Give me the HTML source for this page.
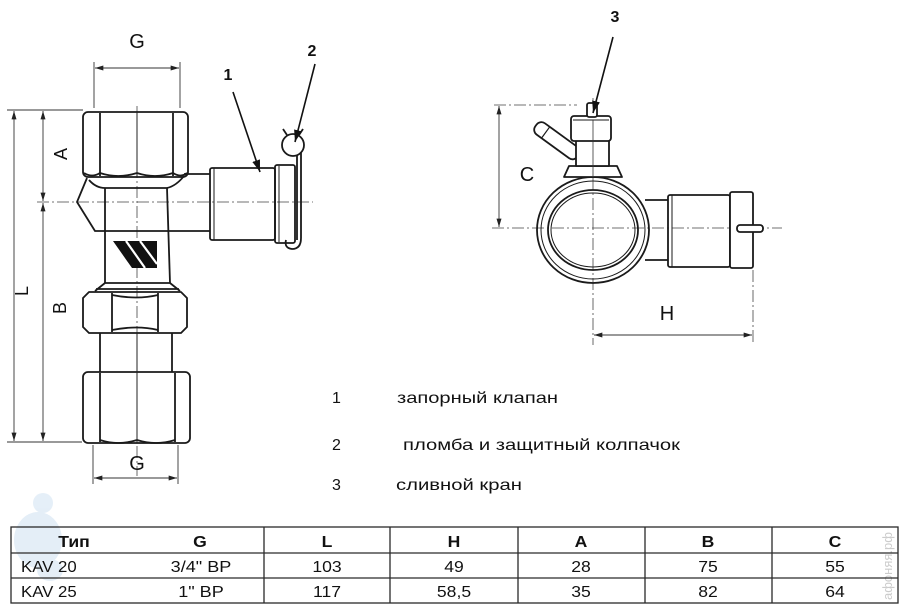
<!DOCTYPE html>
<html><head><meta charset="utf-8"><style>
html,body{margin:0;padding:0;background:#fff;}
svg{display:block;}
text{font-family:"Liberation Sans","Noto Sans CJK SC",sans-serif;fill:#111;}
</style></head><body>
<svg width="903" height="609" viewBox="0 0 903 609" xmlns="http://www.w3.org/2000/svg">
<defs>
<marker id="ar" viewBox="0 0 10 6" refX="10" refY="3" markerWidth="9" markerHeight="5" orient="auto-start-reverse" markerUnits="userSpaceOnUse"><path d="M0,0 L10,3 L0,6 z" fill="#222"/></marker>
<marker id="ld" viewBox="0 0 12 8" refX="12" refY="4" markerWidth="12" markerHeight="8" orient="auto" markerUnits="userSpaceOnUse"><path d="M0,0 L12,4 L0,8 z" fill="#111"/></marker>
</defs>

<!-- watermark figure -->
<g fill="#dce9f5" opacity="0.75">
<circle cx="43" cy="503" r="10"/>
<ellipse cx="38" cy="540" rx="24" ry="28"/>
<ellipse cx="50" cy="570" rx="13" ry="11"/>
</g>
<text transform="translate(892 600) rotate(-90)" font-size="13" style="fill:#cccccc">афоняя.рф</text>

<!-- ===== LEFT DRAWING ===== -->
<g stroke="#444" stroke-width="0.8" stroke-dasharray="12 3 2 3" fill="none">
<line x1="137" y1="106" x2="137" y2="476"/>
<line x1="37" y1="202" x2="313" y2="202"/>
</g>

<g stroke="#1a1a1a" stroke-width="1.8" fill="none" stroke-linejoin="round">
<!-- top nut -->
<rect x="83" y="112" width="105" height="65" rx="5"/>
<line x1="100" y1="113" x2="100" y2="176"/>
<line x1="173" y1="113" x2="173" y2="176"/>
<path d="M100,173 Q118,179 137,173 Q155,179 173,173"/>
<path d="M84,173 Q92,178 100,173 M173,173 Q181,178 187,173"/>
<!-- body -->
<path d="M87,178 L77,202 L95,231 L210,231"/>
<path d="M184,174 L210,174"/>
<path d="M89,180 Q96,188 105,188 L167,188 Q176,186 184,176"/>
<line x1="105" y1="188" x2="105" y2="283"/>
<line x1="167" y1="188" x2="170" y2="283"/>
<path d="M105,283 L170,283 M105,283 L95,291 M170,283 L180,291 M96,289 L179,289"/>
<!-- nut 2 -->
<path d="M89,292 L181,292 L187,298 L187,327 L181,333 L89,333 L83,327 L83,298 Z"/>
<line x1="112" y1="293" x2="112" y2="332"/>
<line x1="158" y1="293" x2="158" y2="332"/>
<path d="M112,295 Q137,300 158,295 M112,330 Q137,325 158,330"/>
<!-- neck -->
<line x1="100" y1="333" x2="100" y2="372"/>
<line x1="172" y1="333" x2="172" y2="372"/>
<!-- nut 3 -->
<rect x="83" y="372" width="107" height="71" rx="5"/>
<line x1="100" y1="373" x2="100" y2="442"/>
<line x1="175" y1="373" x2="175" y2="442"/>
<path d="M100,440 Q118,446 137,440 Q156,446 175,440"/>
<!-- pipe & cap -->
<rect x="210" y="168" width="65" height="72" rx="2"/>
<line x1="214" y1="168" x2="214" y2="240" stroke-width="1"/>
<rect x="275" y="165" width="20" height="78" rx="2"/>
<line x1="279" y1="166" x2="279" y2="242" stroke-width="1"/>
<!-- seal -->
<circle cx="293" cy="145" r="11"/>
<path d="M287,135 L283,129 M299,135 L303,129"/>
<path d="M301,152 L301,238 Q301,249 292,249 Q284,248 286,240"/>
<path d="M297,155 L297,240"/>
</g>
<line x1="137" y1="112" x2="137" y2="177" stroke="#222" stroke-width="1"/>
<line x1="137" y1="333" x2="137" y2="443" stroke="#222" stroke-width="1"/>
<!-- logo -->
<polygon points="113,241 157,241 157,268 132,268" fill="#111"/>
<path d="M126,241 L145,268 M140,241 L157,264" stroke="#fff" stroke-width="2.2"/>

<!-- dimensions left -->
<g stroke="#333" stroke-width="0.9" fill="none">
<line x1="94" y1="62" x2="94" y2="108"/>
<line x1="180" y1="62" x2="180" y2="108"/>
<line x1="95" y1="68" x2="179" y2="68" marker-start="url(#ar)" marker-end="url(#ar)"/>
<line x1="7" y1="110" x2="83" y2="110"/>
<line x1="7" y1="442" x2="82" y2="442"/>
<line x1="14" y1="111" x2="14" y2="441" marker-start="url(#ar)" marker-end="url(#ar)"/>
<line x1="43" y1="111" x2="43" y2="201" marker-start="url(#ar)" marker-end="url(#ar)"/>
<line x1="43" y1="203" x2="43" y2="441" marker-start="url(#ar)" marker-end="url(#ar)"/>
<line x1="93" y1="445" x2="93" y2="484"/>
<line x1="178" y1="445" x2="178" y2="484"/>
<line x1="94" y1="478" x2="177" y2="478" marker-start="url(#ar)" marker-end="url(#ar)"/>
</g>
<text x="137" y="48" font-size="20" text-anchor="middle">G</text>
<text x="137" y="470" font-size="20" text-anchor="middle">G</text>
<text transform="translate(67 154) rotate(-90)" font-size="18" text-anchor="middle">A</text>
<text transform="translate(28 291) rotate(-90)" font-size="18" text-anchor="middle">L</text>
<text transform="translate(66 308) rotate(-90)" font-size="18" text-anchor="middle">B</text>

<!-- leaders 1, 2 -->
<text x="228" y="80" font-size="16" font-weight="bold" text-anchor="middle">1</text>
<text x="312" y="56" font-size="16" font-weight="bold" text-anchor="middle">2</text>
<line x1="233" y1="92" x2="260" y2="172" stroke="#111" stroke-width="1.6" marker-end="url(#ld)"/>
<line x1="315" y1="64" x2="295" y2="142" stroke="#111" stroke-width="1.6" marker-end="url(#ld)"/>

<!-- ===== RIGHT DRAWING ===== -->
<g stroke="#444" stroke-width="0.8" stroke-dasharray="12 3 2 3" fill="none">
<line x1="593" y1="98" x2="593" y2="345"/>
<line x1="492" y1="228" x2="782" y2="228"/>
<line x1="494" y1="105" x2="577" y2="105"/>
<line x1="753" y1="270" x2="753" y2="345"/>
</g>
<g stroke="#1a1a1a" stroke-width="1.8" fill="none" stroke-linejoin="round">
<g transform="translate(578 156) rotate(216)">
<rect x="0" y="-7" width="52" height="14" rx="6" fill="#fff"/>
<line x1="40" y1="-7" x2="40" y2="7" stroke-width="1.2"/>
</g>
<ellipse cx="593" cy="230" rx="56" ry="53"/>
<ellipse cx="593" cy="230" rx="52" ry="49" stroke-width="1"/>
<ellipse cx="593" cy="230" rx="45" ry="40"/>
<ellipse cx="593" cy="230" rx="42" ry="37" stroke-width="1"/>
<path d="M564,177 L569,166 L617,166 L622,177 Z" fill="#fff"/>
<rect x="576" y="140" width="33" height="26" fill="#fff"/>
<rect x="571" y="116" width="40" height="25" rx="3" fill="#fff"/>
<line x1="573" y1="120" x2="609" y2="120" stroke-width="1"/>
<rect x="587" y="103" width="10" height="14" rx="2" fill="#fff"/>
<path d="M645,200 L668,200 M645,260 L668,260"/>
<rect x="668" y="195" width="62" height="72" rx="2"/>
<line x1="672" y1="195" x2="672" y2="267" stroke-width="1"/>
<rect x="730" y="192" width="23" height="76" rx="2" fill="#fff"/>
<rect x="737" y="225" width="26" height="7" rx="3" fill="#fff"/>
</g>
<line x1="593" y1="120" x2="593" y2="176" stroke="#333" stroke-width="0.8"/>
<g stroke="#333" stroke-width="0.9" fill="none">
<line x1="499" y1="106" x2="499" y2="227" marker-start="url(#ar)" marker-end="url(#ar)"/>
<line x1="594" y1="335" x2="752" y2="335" marker-start="url(#ar)" marker-end="url(#ar)"/>
</g>
<text x="527" y="181" font-size="20" text-anchor="middle">C</text>
<text x="667" y="320" font-size="20" text-anchor="middle">H</text>
<text x="615" y="22" font-size="16" font-weight="bold" text-anchor="middle">3</text>
<line x1="613" y1="37" x2="593" y2="113" stroke="#111" stroke-width="1.6" marker-end="url(#ld)"/>

<!-- legend -->
<text x="332" y="403" font-size="16">1</text>
<text x="397" y="403" font-size="16" textLength="161" lengthAdjust="spacingAndGlyphs">запорный клапан</text>
<text x="332" y="450" font-size="16">2</text>
<text x="403" y="450" font-size="16" textLength="277" lengthAdjust="spacingAndGlyphs">пломба и защитный колпачок</text>
<text x="332" y="490" font-size="16">3</text>
<text x="396" y="490" font-size="16" textLength="126" lengthAdjust="spacingAndGlyphs">сливной кран</text>

<!-- table -->
<g stroke="#2a2a2a" stroke-width="1.3" fill="none">
<rect x="11" y="527" width="887" height="76"/>
<line x1="11" y1="553" x2="898" y2="553"/>
<line x1="11" y1="578" x2="898" y2="578"/>
<line x1="264" y1="527" x2="264" y2="603"/>
<line x1="390" y1="527" x2="390" y2="603"/>
<line x1="518" y1="527" x2="518" y2="603"/>
<line x1="645" y1="527" x2="645" y2="603"/>
<line x1="772" y1="527" x2="772" y2="603"/>
</g>
<g font-size="16" font-weight="bold" text-anchor="middle">
<text transform="translate(74 547) scale(1.1 1)">Тип</text>
<text transform="translate(200 547) scale(1.1 1)">G</text>
<text transform="translate(327 547) scale(1.1 1)">L</text>
<text transform="translate(454 547) scale(1.1 1)">H</text>
<text transform="translate(581 547) scale(1.1 1)">A</text>
<text transform="translate(708 547) scale(1.1 1)">B</text>
<text transform="translate(835 547) scale(1.1 1)">C</text>
</g>
<g font-size="16" text-anchor="middle">
<text transform="translate(21 572) scale(1.05 1)" text-anchor="start">KAV 20</text>
<text transform="translate(201 572) scale(1.13 1)">3/4" BP</text>
<text transform="translate(327 572) scale(1.1 1)">103</text>
<text transform="translate(454 572) scale(1.1 1)">49</text>
<text transform="translate(581 572) scale(1.1 1)">28</text>
<text transform="translate(708 572) scale(1.1 1)">75</text>
<text transform="translate(835 572) scale(1.1 1)">55</text>
<text transform="translate(21 597) scale(1.05 1)" text-anchor="start">KAV 25</text>
<text transform="translate(201 597) scale(1.13 1)">1" BP</text>
<text transform="translate(327 597) scale(1.1 1)">117</text>
<text transform="translate(454 597) scale(1.1 1)">58,5</text>
<text transform="translate(581 597) scale(1.1 1)">35</text>
<text transform="translate(708 597) scale(1.1 1)">82</text>
<text transform="translate(835 597) scale(1.1 1)">64</text>
</g>
</svg>
</body></html>
